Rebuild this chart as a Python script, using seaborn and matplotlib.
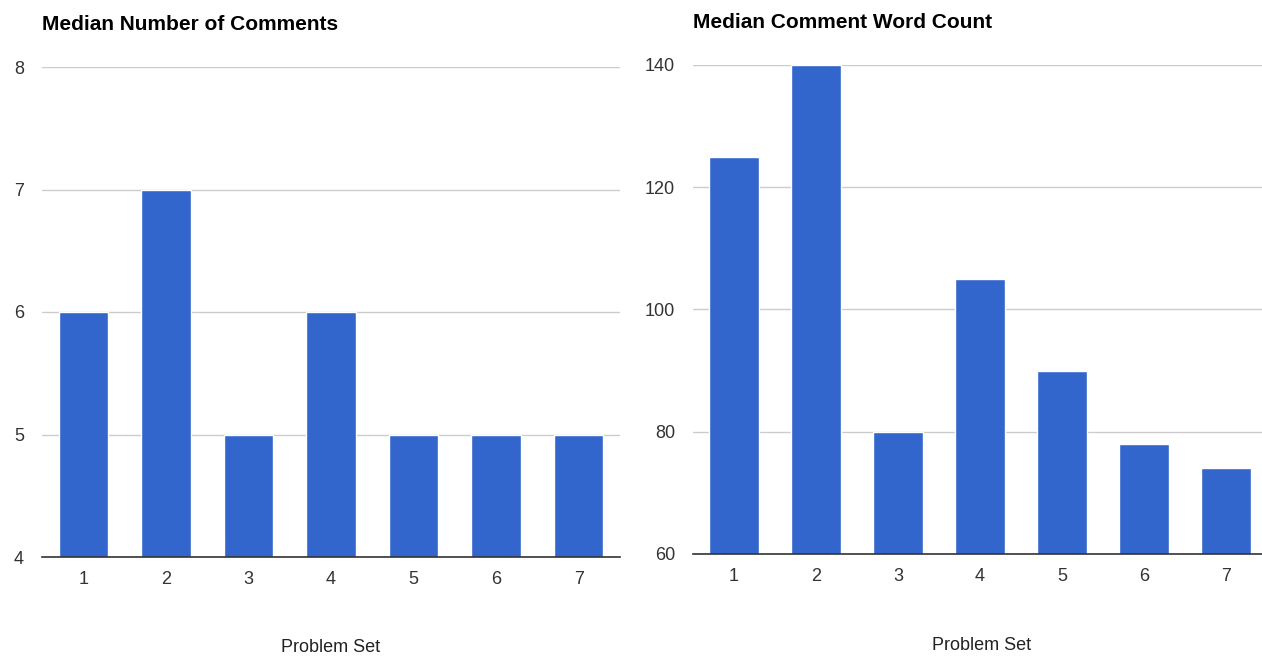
"""
Median comments per problem set, two bar panels.
"""

import matplotlib.pyplot as plt
import pandas as pd
import seaborn as sns

problem_sets = ["1", "2", "3", "4", "5", "6", "7"]
median_comments = [6, 7, 5, 6, 5, 5, 5]
median_word_count = [125, 140, 80, 105, 90, 78, 74]

BAR_COLOR = "#3366CC"
W, H = 1262, 656


def draw_panel(ax, values, ylim, yticks, title, title_xy, xlabel_xy):
    df = pd.DataFrame({"set": problem_sets, "value": values})
    sns.barplot(data=df, x="set", y="value", color=BAR_COLOR, saturation=1,
                width=0.6, ax=ax, zorder=3)
    ax.set_ylim(*ylim)
    ax.set_xlim(-0.5, 6.5)
    ax.set_yticks(yticks)
    ax.grid(axis="y", color="#cccccc", linewidth=1, zorder=0)
    ax.grid(axis="x", visible=False)
    for side in ["top", "right", "left"]:
        ax.spines[side].set_visible(False)
    ax.spines["bottom"].set_color("#333333")
    ax.spines["bottom"].set_linewidth(1.2)
    ax.spines["bottom"].set_zorder(4)
    ax.tick_params(axis="both", length=0, labelsize=13, labelcolor="#333333")
    ax.tick_params(axis="y", pad=13)
    ax.tick_params(axis="x", pad=10)
    ax.set_ylabel("")
    ax.set_xlabel("")
    fig = ax.figure
    fig.text(title_xy[0] / W, 1 - title_xy[1] / H, title, fontsize=15,
             fontweight="bold", ha="left", va="center", color="#000000")
    fig.text(xlabel_xy[0] / W, 1 - xlabel_xy[1] / H, "Problem Set",
             fontsize=13, ha="center", va="center", color="#222222")


sns.set_style("white")
plt.rcParams["font.family"] = ["Liberation Sans", "DejaVu Sans"]

fig = plt.figure(figsize=(W / 100, H / 100), dpi=100)
ax1 = fig.add_axes([42 / W, 1 - 557 / H, (620 - 42) / W, (557 - 67) / H])
ax2 = fig.add_axes([693 / W, 1 - 554 / H, (1267 - 693) / W, (554 - 65) / H])

draw_panel(ax1, median_comments, (4, 8), [4, 5, 6, 7, 8],
           "Median Number of Comments", (42, 25), (331, 648))
draw_panel(ax2, median_word_count, (60, 140), [60, 80, 100, 120, 140],
           "Median Comment Word Count", (693, 22), (982, 646))

fig.savefig("out.png", dpi=100)
plt.close()
